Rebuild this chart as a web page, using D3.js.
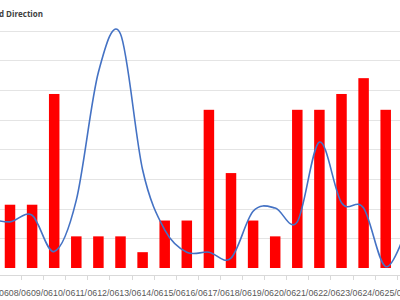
<!DOCTYPE html>
<html>
<head>
<meta charset="utf-8">
<script src="https://cdn.jsdelivr.net/npm/d3@7"></script>
<style>
  body { margin: 0; background: #fff; }
  svg { display: block; }
</style>
</head>
<body>
<svg id="svg" width="400" height="300"></svg>
<script>

// categories (day of June), one before and one after the visible window
var days = ["07","08","09","10","11","12","13","14","15","16","17","18","19","20","21","22","23","24","25","26"]
var tickLabels = days.map(d => "06" + d + "/")

// bar series (speed) and smoothed line series (direction, degrees)
var speed = [3, 4, 4, 11, 2, 2, 2, 1, 3, 3, 10, 6, 3, 2, 10, 10, 11, 12, 10, 4]
var direction = [76, 70, 80, 25, 103, 297, 355, 149, 58, 24, 24, 15, 86, 91, 70, 191, 99, 91, 2, 65]

var titleText = "Wind Speed and Direction"
var speedMax = 15
var dirMax = 360
var dirStep = 45

var svg = d3.select("#svg")
var width = 400, height = 300

var yBase = 268, yTop = 30.7, axisY = 275

var x = d3.scaleBand()
  .domain(days)
  .range([-23.15, -23.15 + 22.1 * days.length])
  .padding(0)

var ySpeed = d3.scaleLinear().domain([0, speedMax]).range([yBase, yTop])
var yDir = d3.scaleLinear().domain([0, dirMax]).range([yBase, yTop])

// gridlines
var gridTicks = d3.range(dirStep, dirMax + 1, dirStep)
svg.append("g").selectAll("line")
  .data(gridTicks)
  .enter().append("line")
  .attr("x1", 0).attr("x2", width)
  .attr("y1", d => Math.round(yDir(d)) + 0.5)
  .attr("y2", d => Math.round(yDir(d)) + 0.5)
  .attr("stroke", "#e4e4e4")
  .attr("stroke-width", 1)

// bars
var barW = 10.5
svg.append("g").selectAll("rect")
  .data(days)
  .enter().append("rect")
  .attr("x", (d, i) => x(d) + x.bandwidth() / 2 - barW / 2)
  .attr("width", barW)
  .attr("y", (d, i) => ySpeed(speed[i]))
  .attr("height", (d, i) => yBase - ySpeed(speed[i]))
  .attr("fill", "#ff0000")

// smoothed line
var line = d3.line()
  .x((d, i) => x(days[i]) + x.bandwidth() / 2)
  .y(d => yDir(d))
  .curve(d3.curveCatmullRom.alpha(0))

svg.append("path")
  .datum(direction)
  .attr("d", line)
  .attr("fill", "none")
  .attr("stroke", "#4472c4")
  .attr("stroke-width", 1.6)

// category axis
var xAxis = d3.axisBottom(x)
  .tickSize(0)
  .tickFormat((d, i) => tickLabels[i])

var ax = svg.append("g")
  .attr("transform", "translate(0," + axisY + ")")
  .call(xAxis)
ax.select(".domain").remove()
ax.selectAll("text")
  .attr("y", 20.5)
  .attr("dy", null)
  .attr("fill", "#595959")
  .style("font-family", "'Liberation Sans', Arial, sans-serif")
  .style("font-size", "8.8px")

svg.append("line")
  .attr("x1", 0).attr("x2", width)
  .attr("y1", axisY + 0.5).attr("y2", axisY + 0.5)
  .attr("stroke", "#d9d9d9")

// tick marks between categories
var bounds = days.map(d => x(d)).concat([x.range()[1]])
svg.append("g").selectAll("line")
  .data(bounds)
  .enter().append("line")
  .attr("x1", d => Math.round(d) + 0.5).attr("x2", d => Math.round(d) + 0.5)
  .attr("y1", axisY).attr("y2", axisY + 5)
  .attr("stroke", "#d9d9d9")

// title (cut off on the left like the reference)
svg.append("text")
  .attr("x", 43)
  .attr("y", 16.5)
  .attr("text-anchor", "end")
  .attr("fill", "#404040")
  .style("font-family", "'Open Sans', sans-serif")
  .style("font-weight", "bold")
  .style("font-size", "8px")
  .text(titleText)

</script>
</body>
</html>
